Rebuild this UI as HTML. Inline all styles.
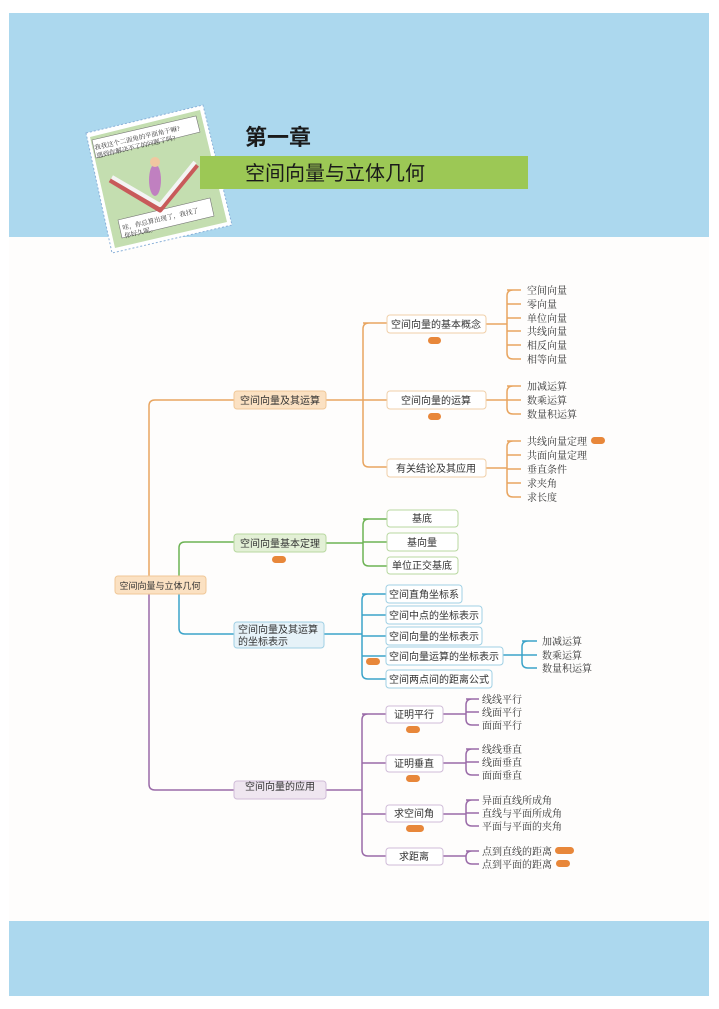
<!DOCTYPE html>
<html><head><meta charset="utf-8"><style>
html,body{margin:0;padding:0;background:#fff}
svg{display:block}
.s{font-family:"Liberation Sans","Noto Sans CJK SC",sans-serif;font-size:10px;fill:#333}
.l{font-family:"Liberation Serif","Noto Serif CJK SC",serif;font-size:10px;fill:#333}
</style></head><body>
<svg width="719" height="1009" viewBox="0 0 719 1009" xmlns="http://www.w3.org/2000/svg">
<rect width="719" height="1009" fill="#fff"/>
<rect x="9" y="13" width="700" height="224" fill="#acd8ee"/>
<rect x="9" y="237" width="700" height="684" fill="#fefdfc"/>
<rect x="9" y="921" width="700" height="75" fill="#acd8ee"/>

<!-- cartoon card -->
<polygon points="86,133 203,105 232,225 112,253" fill="#fff" stroke="#8ab0d8" stroke-width="1" stroke-dasharray="2,2"/>
<polygon points="90,137 200,110 227,222 115,248" fill="#c4deb0"/>
<polygon points="92,140 196,116 200,132 96,158" fill="#fff" stroke="#777" stroke-width="0.6"/>
<polygon points="118,220 210,198 214,216 122,238" fill="#fff" stroke="#777" stroke-width="0.6"/>
<text x="95" y="150" class="l" style="font-size:6.5px" transform="rotate(-13 95 150)">我我这个二面角的平面角干嘛?</text>
<text x="97" y="158" class="l" style="font-size:6.5px" transform="rotate(-13 97 158)">遇到你解决不了的问题了吗?</text>
<text x="123" y="230" class="l" style="font-size:6.5px" transform="rotate(-13 123 230)">哇，你总算出现了，我找了</text>
<text x="125" y="238" class="l" style="font-size:6.5px" transform="rotate(-13 125 238)">你好久呢。</text>
<path d="M110,180 L160,210 L197,165" fill="none" stroke="#c85a5a" stroke-width="5" stroke-linejoin="round"/>
<path d="M112,177 L160,205 L195,162" fill="none" stroke="#f4f4f4" stroke-width="4" stroke-linejoin="round"/>
<ellipse cx="155" cy="180" rx="6" ry="16" fill="#c080c0"/>
<circle cx="155" cy="162" r="5" fill="#f0c8a0"/>

<!-- header -->
<text x="245" y="145" style="font-family:'Liberation Sans','Noto Sans CJK SC',sans-serif;font-size:22px;font-weight:bold;fill:#1a1a1a">第一章</text>
<rect x="200" y="156" width="328" height="33" fill="#9cc855"/>
<text x="245" y="180" style="font-family:'Liberation Sans','Noto Sans CJK SC',sans-serif;font-size:20px;fill:#1a1a1a">空间向量与立体几何</text>

<g fill="none" stroke-width="1.5">
<!-- orange -->
<path d="M149,576 V406 Q149,400 155,400 H234" stroke="#e8a560"/>
<path d="M326,400 H363 M369,323 Q363,323 363,329 V461 Q363,467 369,467 H387 M363,323 H387 M363,400 H387" stroke="#e8a560"/>
<path d="M486,324 H507 M513,290 Q507,290 507,296 V353 Q507,359 513,359 H521 M507,290 H521 M507,304 H521 M507,318 H521 M507,331 H521 M507,345 H521" stroke="#e8a560"/>
<path d="M486,400 H507 M513,386 Q507,386 507,392 V408 Q507,414 513,414 H521 M507,386 H521 M507,400 H521" stroke="#e8a560"/>
<path d="M486,468 H507 M513,441 Q507,441 507,447 V491 Q507,497 513,497 H521 M507,441 H521 M507,455 H521 M507,469 H521 M507,483 H521" stroke="#e8a560"/>
<!-- green -->
<path d="M179,576 V548 Q179,542 185,542 H234" stroke="#6db354"/>
<path d="M326,543 H363 M369,519 Q363,519 363,525 V560 Q363,566 369,566 H387 M363,519 H387 M363,542 H387" stroke="#6db354"/>
<!-- blue -->
<path d="M179,594 V628 Q179,634 185,634 H234" stroke="#3ba3c9"/>
<path d="M324,634 H362 M368,594 Q362,594 362,600 V673 Q362,679 368,679 H386 M362,594 H386 M362,615 H386 M362,636 H386 M362,656 H386" stroke="#3ba3c9"/>
<path d="M503,655 H522 M528,641 Q522,641 522,647 V662 Q522,668 528,668 H537 M522,641 H537 M522,655 H537" stroke="#3ba3c9"/>
<!-- purple -->
<path d="M149,594 V784 Q149,790 155,790 H234" stroke="#9a6ba8"/>
<path d="M326,790 H362 M368,714 Q362,714 362,720 V850 Q362,856 368,856 H386 M362,714 H386 M362,763 H386 M362,814 H386" stroke="#9a6ba8"/>
<path d="M443,714 H466 M472,699 Q466,699 466,705 V719 Q466,725 472,725 H479 M466,699 H479 M466,712 H479" stroke="#9a6ba8"/>
<path d="M443,763 H466 M472,749 Q466,749 466,755 V769 Q466,775 472,775 H479 M466,749 H479 M466,762 H479" stroke="#9a6ba8"/>
<path d="M443,814 H466 M472,800 Q466,800 466,806 V820 Q466,826 472,826 H479 M466,800 H479 M466,813 H479" stroke="#9a6ba8"/>
<path d="M443,856 H466 M472,851 Q466,851 466,857 V858 Q466,864 472,864 H479 M466,851 H479" stroke="#9a6ba8"/>
</g>

<!-- nodes -->
<g stroke-width="1">
<rect x="115" y="576" width="91" height="18" rx="3" fill="#fbe1c2" stroke="#f0c898"/>
<rect x="234" y="391" width="92" height="18" rx="3" fill="#fbe1c2" stroke="#f0c898"/>
<rect x="387" y="315" width="99" height="18" rx="3" fill="#fff" stroke="#f0cfa8"/>
<rect x="387" y="391" width="99" height="18" rx="3" fill="#fff" stroke="#f0cfa8"/>
<rect x="387" y="459" width="99" height="18" rx="3" fill="#fff" stroke="#f0cfa8"/>
<rect x="234" y="534" width="92" height="18" rx="3" fill="#e3f0d6" stroke="#b8d8a0"/>
<rect x="387" y="510" width="71" height="17" rx="3" fill="#fff" stroke="#b8d8a0"/>
<rect x="387" y="533" width="71" height="18" rx="3" fill="#fff" stroke="#b8d8a0"/>
<rect x="387" y="557" width="71" height="17" rx="3" fill="#fff" stroke="#b8d8a0"/>
<rect x="234" y="622" width="90" height="26" rx="3" fill="#e6f2f8" stroke="#a0d0e4"/>
<rect x="386" y="585" width="76" height="18" rx="3" fill="#fff" stroke="#a0d0e4"/>
<rect x="386" y="606" width="96" height="18" rx="3" fill="#fff" stroke="#a0d0e4"/>
<rect x="386" y="627" width="96" height="18" rx="3" fill="#fff" stroke="#a0d0e4"/>
<rect x="386" y="647" width="117" height="18" rx="3" fill="#fff" stroke="#a0d0e4"/>
<rect x="386" y="670" width="106" height="18" rx="3" fill="#fff" stroke="#a0d0e4"/>
<rect x="234" y="781" width="92" height="18" rx="3" fill="#efe6f0" stroke="#d0bcd8"/>
<rect x="386" y="706" width="57" height="17" rx="3" fill="#fff" stroke="#d0bcd8"/>
<rect x="386" y="755" width="57" height="17" rx="3" fill="#fff" stroke="#d0bcd8"/>
<rect x="386" y="805" width="57" height="17" rx="3" fill="#fff" stroke="#d0bcd8"/>
<rect x="386" y="848" width="57" height="17" rx="3" fill="#fff" stroke="#d0bcd8"/>
</g>
<!-- badges -->
<g fill="#e8873a">
<rect x="428" y="337" width="13" height="7" rx="3.5"/>
<rect x="428" y="413" width="13" height="7" rx="3.5"/>
<rect x="591" y="437" width="14" height="7" rx="3.5"/>
<rect x="272" y="556" width="14" height="7" rx="3.5"/>
<rect x="366" y="658" width="14" height="7" rx="3.5"/>
<rect x="406" y="726" width="14" height="7" rx="3.5"/>
<rect x="406" y="775" width="14" height="7" rx="3.5"/>
<rect x="406" y="825" width="18" height="7" rx="3.5"/>
<rect x="555" y="847" width="19" height="7" rx="3.5"/>
<rect x="556" y="860" width="14" height="7" rx="3.5"/>
</g>

<!-- node text -->
<g class="s" text-anchor="middle">
<text x="160" y="589" style="font-size:9px">空间向量与立体几何</text>
<text x="280" y="404">空间向量及其运算</text>
<text x="436" y="328">空间向量的基本概念</text>
<text x="436" y="404">空间向量的运算</text>
<text x="436" y="472">有关结论及其应用</text>
<text x="280" y="547">空间向量基本定理</text>
<text x="422" y="522">基底</text>
<text x="422" y="546">基向量</text>
<text x="422" y="569">单位正交基底</text>
<text x="280" y="790" style="font-size:10px">空间向量的应用</text>
<text x="414" y="718">证明平行</text>
<text x="414" y="767">证明垂直</text>
<text x="414" y="817">求空间角</text>
<text x="414" y="860">求距离</text>
</g>
<g class="s">
<text x="238" y="633">空间向量及其运算</text>
<text x="238" y="645">的坐标表示</text>
<text x="389" y="598">空间直角坐标系</text>
<text x="389" y="619">空间中点的坐标表示</text>
<text x="389" y="640">空间向量的坐标表示</text>
<text x="389" y="660">空间向量运算的坐标表示</text>
<text x="389" y="683">空间两点间的距离公式</text>
</g>
<!-- leaves -->
<g class="l">
<text x="527" y="294">空间向量</text>
<text x="527" y="308">零向量</text>
<text x="527" y="322">单位向量</text>
<text x="527" y="335">共线向量</text>
<text x="527" y="349">相反向量</text>
<text x="527" y="363">相等向量</text>
<text x="527" y="390">加减运算</text>
<text x="527" y="404">数乘运算</text>
<text x="527" y="418">数量积运算</text>
<text x="527" y="445">共线向量定理</text>
<text x="527" y="459">共面向量定理</text>
<text x="527" y="473">垂直条件</text>
<text x="527" y="487">求夹角</text>
<text x="527" y="501">求长度</text>
<text x="542" y="645">加减运算</text>
<text x="542" y="659">数乘运算</text>
<text x="542" y="672">数量积运算</text>
<text x="482" y="703">线线平行</text>
<text x="482" y="716">线面平行</text>
<text x="482" y="729">面面平行</text>
<text x="482" y="753">线线垂直</text>
<text x="482" y="766">线面垂直</text>
<text x="482" y="779">面面垂直</text>
<text x="482" y="804">异面直线所成角</text>
<text x="482" y="817">直线与平面所成角</text>
<text x="482" y="830">平面与平面的夹角</text>
<text x="482" y="855">点到直线的距离</text>
<text x="482" y="868">点到平面的距离</text>
</g>
</svg>
</body></html>
